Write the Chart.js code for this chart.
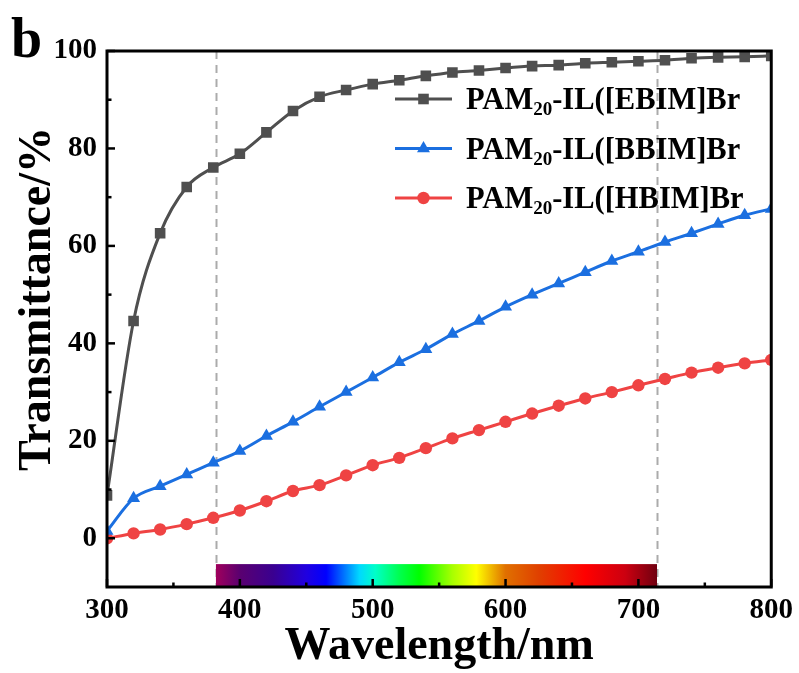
<!DOCTYPE html>
<html><head><meta charset="utf-8">
<script src="https://cdn.jsdelivr.net/npm/chart.js@4/dist/chart.umd.min.js"></script>
<style>html,body{margin:0;padding:0;background:#fff}canvas{display:block}</style>
</head><body>
<canvas id="c" width="799" height="673"></canvas>
<script>
// ---- data ----
const wavelengths = [300,320,340,360,380,400,420,440,460,480,500,520,540,560,580,600,620,640,660,680,700,720,740,760,780,800];
const ebimValues = [8.8,44.6,62.6,72.1,76.1,78.9,83.3,87.7,90.6,92.0,93.2,94.0,94.9,95.6,96.0,96.5,96.9,97.1,97.5,97.7,97.9,98.1,98.5,98.7,98.8,99.0];
const bbimValues = [1.5,8.2,10.7,13.1,15.5,17.9,21.0,23.9,27.0,30.0,33.0,36.1,38.8,41.9,44.6,47.5,50.0,52.3,54.6,56.9,58.8,60.8,62.6,64.5,66.3,67.6];
const hbimValues = [0.0,1.0,1.8,2.9,4.2,5.7,7.6,9.7,10.9,12.9,15.0,16.5,18.5,20.5,22.2,23.9,25.6,27.2,28.7,30.0,31.4,32.7,34.0,35.0,35.9,36.6];
const seriesNames = ['PAM20-IL([EBIM]Br','PAM20-IL([BBIM]Br','PAM20-IL([HBIM]Br'];
const xTicks = [300,400,500,600,700,800];
const yTicks = [0,20,40,60,80,100];
const xTitle = 'Wavelength/nm';
const yTitle = 'Transmittance/%';
const panelLabel = 'b';
const visibleBounds = [382,714];
const spectrumNm = [382,400,425,450,465,490,502,520,535,560,578,600,625,660,690,714];
const spectrumColors = ['#a0005c','#5a0070','#3a0090','#2000e0','#0000ff','#00d8ff','#00ffc8','#00ff50','#00ff00','#a8ff00','#ffff00','#e07000','#e04000','#ff0000','#cc0010','#700010'];
const spectrumTopValue = -5.3;

const FONT = "'Liberation Serif','Times New Roman',serif";

const spectrumPlugin = {
  id:'spectrum',
  beforeDatasetsDraw(chart){
    const {ctx, chartArea:a, scales:{x,y}} = chart;
    ctx.save();
    ctx.strokeStyle = '#ababab'; ctx.lineWidth = 2; ctx.setLineDash([8,6]);
    visibleBounds.forEach(v=>{
      const px = Math.round(x.getPixelForValue(v))+0.5;
      ctx.beginPath(); ctx.moveTo(px,a.top); ctx.lineTo(px,a.bottom); ctx.stroke();
    });
    ctx.setLineDash([]);
    const x0 = x.getPixelForValue(spectrumNm[0]), x1 = x.getPixelForValue(spectrumNm[spectrumNm.length-1]);
    const yt = y.getPixelForValue(spectrumTopValue);
    const g = ctx.createLinearGradient(x0,0,x1,0);
    spectrumNm.forEach((nm,i)=>g.addColorStop((nm-spectrumNm[0])/(spectrumNm[spectrumNm.length-1]-spectrumNm[0]), spectrumColors[i]));
    ctx.fillStyle = g;
    ctx.fillRect(x0, yt, x1-x0, a.bottom-yt);
    ctx.restore();
  }
};

const framePlugin = {
  id:'frame',
  afterDatasetsDraw(chart){
    const {ctx, chartArea:a, scales:{x,y}} = chart;
    ctx.save();
    ctx.strokeStyle = '#000';
    ctx.lineWidth = 2.5;
    const tick = (x1,y1,x2,y2)=>{ctx.beginPath();ctx.moveTo(x1,y1);ctx.lineTo(x2,y2);ctx.stroke();};
    xTicks.forEach((v,i)=>{
      const px = x.getPixelForValue(v);
      tick(px,a.bottom,px,a.bottom-8);
      if(i<xTicks.length-1){const m = x.getPixelForValue((v+xTicks[i+1])/2); tick(m,a.bottom,m,a.bottom-4.5);}
    });
    yTicks.forEach((v,i)=>{
      const py = y.getPixelForValue(v);
      tick(a.left,py,a.left+8,py);
      if(i<yTicks.length-1){const m = y.getPixelForValue((v+yTicks[i+1])/2); tick(a.left,m,a.left+4.5,m);}
    });
    ctx.lineWidth = 3;
    ctx.strokeRect(a.left, a.top, a.right-a.left, a.bottom-a.top);
    ctx.restore();
  }
};

const legendPlugin = {
  id:'customLegend',
  afterDraw(chart){
    const ctx = chart.ctx;
    ctx.save();
    chart.data.datasets.forEach((ds,i)=>{
      const cy = 99 + i*49.5;
      ctx.strokeStyle = ds.borderColor; ctx.lineWidth = 3;
      ctx.beginPath(); ctx.moveTo(395,cy); ctx.lineTo(452,cy); ctx.stroke();
      ctx.fillStyle = ds.borderColor;
      Chart.helpers.drawPoint(ctx,{pointStyle:ds.pointStyle,radius:ds.pointRadius,rotation:0,borderWidth:0},423.5,cy);
      const m = ds.label.match(/^(PAM)(20)(.*)$/);
      ctx.fillStyle = '#000'; ctx.textBaseline = 'alphabetic'; ctx.textAlign = 'left';
      let tx = 466; const base = cy + 10;
      ctx.font = "bold 30.5px " + FONT; ctx.fillText(m[1],tx,base); tx += ctx.measureText(m[1]).width;
      ctx.font = "bold 19px " + FONT; ctx.fillText(m[2],tx,base+6); tx += ctx.measureText(m[2]).width;
      ctx.font = "bold 30.5px " + FONT; ctx.fillText(m[3],tx,base);
    });
    // y-axis title
    ctx.save();
    ctx.translate(50, 299); ctx.rotate(-Math.PI/2);
    ctx.font = "bold 46px " + FONT; ctx.fillStyle = '#000'; ctx.textAlign = 'center'; ctx.textBaseline = 'alphabetic';
    ctx.fillText(yTitle, 0, 0);
    ctx.restore();
    // panel letter
    ctx.font = "bold 56px " + FONT; ctx.fillStyle='#000'; ctx.textAlign='left';
    ctx.fillText(panelLabel, 11, 57);
    ctx.restore();
  }
};

const mk = (label, data, color, style, r) => ({
  label, data: wavelengths.map((w,i)=>({x:w,y:data[i]})),
  borderColor:color, backgroundColor:color, pointBackgroundColor:color,
  borderWidth:3, pointStyle:style, pointRadius:r, pointHoverRadius:r, pointBorderWidth:0,
  cubicInterpolationMode:'monotone', fill:false
});

new Chart(document.getElementById('c'), {
  type:'line',
  data:{ datasets:[
    mk(seriesNames[0], ebimValues, '#4f4f4f', 'rect', 7.5),
    mk(seriesNames[1], bbimValues, '#1b6fe0', 'triangle', 7.5),
    mk(seriesNames[2], hbimValues, '#ef4343', 'circle', 6.2)
  ]},
  options:{
    responsive:false, devicePixelRatio:1, animation:false,
    layout:{padding:{top:51,right:27,left:0,bottom:0}},
    plugins:{legend:{display:false}, tooltip:{enabled:false}},
    scales:{
      x:{type:'linear',min:300,max:800,
        afterBuildTicks:s=>{s.ticks = xTicks.map(v=>({value:v}));},
        afterFit:s=>{s.height = 86;},
        grid:{display:false,drawTicks:false}, border:{display:false},
        ticks:{color:'#000',font:{family:FONT,weight:'bold',size:29},padding:6,maxRotation:0,autoSkip:false},
        title:{display:true,text:xTitle,color:'#000',font:{family:FONT,weight:'bold',size:46,lineHeight:1},padding:{top:0,bottom:3}}
      },
      y:{type:'linear',min:-10,max:100,
        afterBuildTicks:s=>{s.ticks = yTicks.map(v=>({value:v}));},
        afterFit:s=>{s.width = 107;},
        grid:{display:false,drawTicks:false}, border:{display:false},
        ticks:{color:'#000',font:{family:FONT,weight:'bold',size:29},padding:10,autoSkip:false},
        title:{display:false}
      }
    }
  },
  plugins:[spectrumPlugin, framePlugin, legendPlugin]
});
</script>
</body></html>
